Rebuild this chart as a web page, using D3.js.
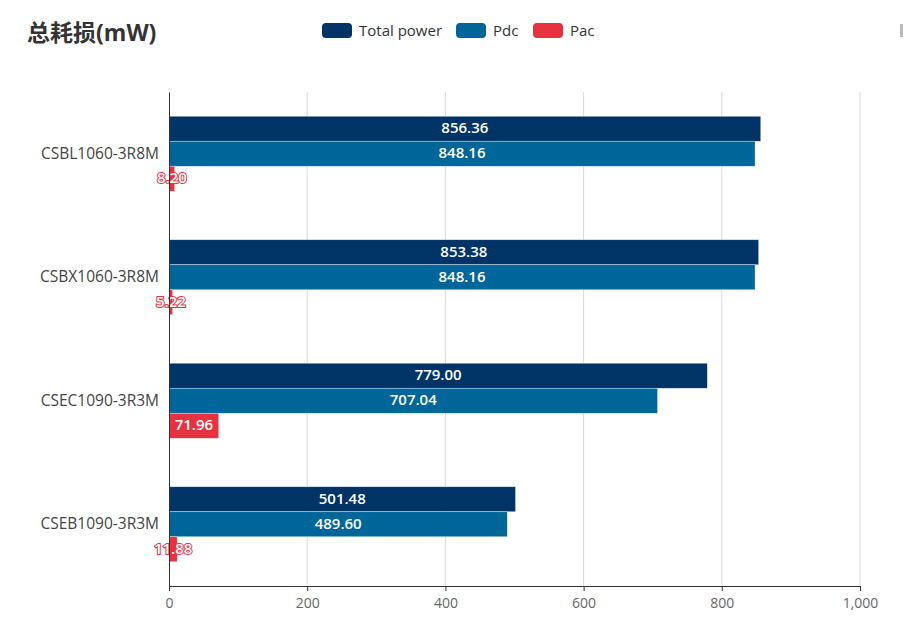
<!DOCTYPE html>
<html><head><meta charset="utf-8">
<script src="https://cdn.jsdelivr.net/npm/d3@7/dist/d3.min.js"></script>
<style>body{margin:0;background:#fff;} svg{display:block;}</style>
</head><body>
<svg id="c" width="903" height="627"></svg>
<script>
const categories = ["CSBL1060-3R8M","CSBX1060-3R8M","CSEC1090-3R3M","CSEB1090-3R3M"];
const seriesNames = ["Total power","Pdc","Pac"];
const totalPower = [856.36, 853.38, 779.00, 501.48];
const pdc = [848.16, 848.16, 707.04, 489.60];
const pac = [8.20, 5.22, 71.96, 11.88];
const colors = ["#003366","#006699","#e5323e"];
const xTicks = [0,200,400,600,800,1000];
const title = "总耗损(mW)";

const series = [totalPower, pdc, pac];
const svg = d3.select("#c");
const font = "'Open Sans','Noto Sans CJK SC',sans-serif";
const m = {left:169, right:43, top:92, bottom:41};
const W = 903, H = 627;
const x = d3.scaleLinear().domain([0,1000]).range([m.left, W-m.right]);
const y = d3.scaleBand().domain(categories).range([m.top, H-m.bottom]);
const sub = d3.scaleBand().domain(d3.range(3)).range([0, 75]);
const off = (y.bandwidth()-75)/2;

// title
svg.append("text").attr("x",27).attr("y",41).attr("font-family",font).attr("font-size",23)
  .attr("font-weight","bold").attr("fill","#333").text(title);

// legend
const legX = [322, 456, 533];
seriesNames.forEach((n,i)=>{
  svg.append("rect").attr("x",legX[i]).attr("y",23).attr("width",30).attr("height",15).attr("rx",4).attr("fill",colors[i]);
  svg.append("text").attr("x",legX[i]+37).attr("y",35.5).attr("font-family",font).attr("font-size",15).attr("fill","#333").text(n);
});
svg.append("rect").attr("x",900).attr("y",24).attr("width",3).attr("height",13).attr("fill","#bbb");

// grid
svg.append("g").selectAll("line").data(xTicks.slice(1)).join("line")
  .attr("x1",d=>x(d)).attr("x2",d=>x(d)).attr("y1",m.top).attr("y2",H-m.bottom)
  .attr("stroke","#d9d9d9").attr("stroke-width",1);

// bars
categories.forEach((c,ci)=>{
  series.forEach((s,si)=>{
    const v = s[ci];
    const by = y(c)+off+sub(si);
    const bw = x(v)-x(0);
    svg.append("rect").attr("x",x(0)).attr("y",by).attr("width",bw).attr("height",sub.bandwidth())
      .attr("fill",colors[si]).attr("stroke","rgba(255,255,255,0.6)").attr("stroke-width",0.6);
    svg.append("text").attr("x",x(0)+bw/2).attr("y",by+sub.bandwidth()/2+4.5)
      .attr("text-anchor","middle").attr("font-family",font).attr("font-size",15).attr("font-weight",600)
      .attr("fill","#fff").attr("stroke",colors[si]).attr("stroke-width",2).attr("paint-order","stroke")
      .text(v.toFixed(2));
  });
});

// axes
const xAxis = d3.axisBottom(x).tickValues(xTicks).tickSize(5).tickFormat(d3.format(","));
const gx = svg.append("g").attr("transform",`translate(0,${H-m.bottom})`).call(xAxis);
gx.select(".domain").attr("stroke","#333");
gx.selectAll(".tick line").attr("stroke","#333");
gx.selectAll(".tick text").attr("font-family",font).attr("font-size",14).attr("fill","#666").attr("dy","1em");

const gy = svg.append("g").attr("transform",`translate(${m.left},0)`).call(d3.axisLeft(y).tickSize(0).tickPadding(10));
gy.select(".domain").attr("stroke","#333");
gy.selectAll(".tick text").attr("font-family",font).attr("font-size",15.5).attr("fill","#444");
</script>
</body></html>
